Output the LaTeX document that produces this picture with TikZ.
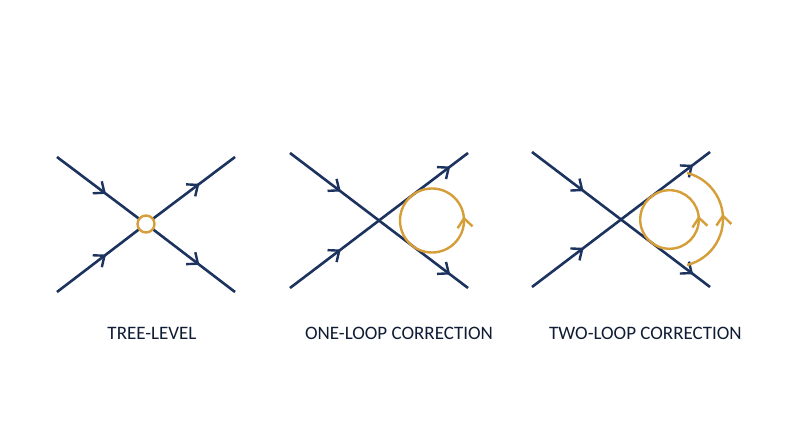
\documentclass[tikz,border=0pt]{standalone}
\usepackage{fontspec}
\setmainfont{Carlito}
\usetikzlibrary{arrows.meta,decorations.markings}
\definecolor{navy}{RGB}{28,50,95}
\definecolor{gold}{RGB}{214,158,56}
\tikzset{
  chev/.tip={Straight Barb[length=9pt,width=15pt,line width=2.4pt]},
  fline/.style={navy,line width=2.6pt},
  loopline/.style={gold,line width=2.4pt},
  markat/.style={postaction={decorate},decoration={markings,mark=at position #1 with {\arrow{chev}}}},
  lbl/.style={font=\fontsize{19}{22}\selectfont,text=navy!55!black,anchor=base}
}
\begin{document}
\begin{tikzpicture}[x=1pt,y=1pt]
\useasboundingbox[fill=white] (0,0) rectangle (800,447);
% ---------- panel 1: tree level
\coordinate (c1) at (146,223);
\coordinate (a1) at (57,290);
\coordinate (b1) at (57,155);
\coordinate (d1) at (235,290);
\coordinate (e1) at (235,155);
\draw[fline,markat=0.55] (a1) -- (c1);
\draw[fline,markat=0.55] (b1) -- (c1);
\draw[fline,markat=0.6] (c1) -- (d1);
\draw[fline,markat=0.6] (c1) -- (e1);
\node[circle,draw=gold,line width=2.4pt,fill=white,minimum size=17pt,inner sep=0pt] (v1) at (c1) {};
\node[lbl] (t1) at (152,107) {TREE-LEVEL};
% ---------- panel 2: one loop
\coordinate (c2) at (379,226.5);
\coordinate (a2) at (290,294);
\coordinate (b2) at (290,159);
\coordinate (d2) at (468,294);
\coordinate (e2) at (468,159);
\draw[fline,markat=0.57] (a2) -- (c2);
\draw[fline,markat=0.57] (b2) -- (c2);
\draw[fline,markat=0.8] (c2) -- (d2);
\draw[fline,markat=0.8] (c2) -- (e2);
\draw[loopline,markat=0.27] (432,226.5) ++(-90:32) arc[start angle=-90,end angle=270,radius=32];
\node[lbl] (t2) at (399,107) {ONE-LOOP CORRECTION};
% ---------- panel 3: two loop
\coordinate (c3) at (621,227.5);
\coordinate (a3) at (532,295);
\coordinate (b3) at (532,160);
\coordinate (d3) at (710,295);
\coordinate (e3) at (710,160);
\draw[fline,markat=0.58] (a3) -- (c3);
\draw[fline,markat=0.58] (b3) -- (c3);
\draw[fline,markat=0.81] (c3) -- (d3);
\draw[fline,markat=0.81] (c3) -- (e3);
\draw[loopline,markat=0.27] (669.5,227.5) ++(-90:29.3) arc[start angle=-90,end angle=270,radius=29.3];
\draw[loopline,markat=0.54] (675.6,228) ++(-76:47.4) arc[start angle=-76,end angle=76,radius=47.4];
\node[lbl] (t3) at (645.5,107) {TWO-LOOP CORRECTION};
\end{tikzpicture}
\end{document}
